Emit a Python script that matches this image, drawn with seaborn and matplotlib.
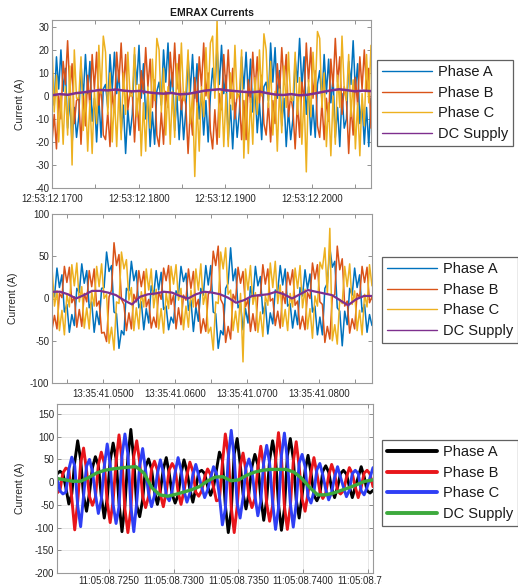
import numpy as np
import matplotlib
matplotlib.use('Agg')
import matplotlib.pyplot as plt
from matplotlib.lines import Line2D
from matplotlib.transforms import Bbox
import seaborn as sns

# ---------------- data ----------------
series_labels = ['Phase A', 'Phase B', 'Phase C', 'DC Supply']

# Panel 1 (12:53:12.xxxx)
p1_time_range = (0.1700, 0.2068)
p1_phase_a = [8, -4, 17, 3, 20, 2, 12, -14, -1, -21, -5, -18,
              -9, 14, -1, 18, 1, 15, -11, -1, -20, -1, -18, 3,
              5, -5, 18, 3, 19, 1, 11, -16, -4, -25, -6, -17,
              -8, 18, 5, 22, -1, 14, -10, 1, -22, -7, -21, 2,
              6, -4, 20, 6, 23, 2, 10, -15, 0, -19, -2, -19,
              -6, 17, 2, 18, -1, 14, -10, 1, -17, -2, -20, 0,
              12, 2, 21, 5, 22, 1, 9, -19, -4, -23, -3, -18,
              -7, 17, 3, 19, 0, 16, -7, 5, -16, -3, -19, 4,
              6, -2, 23, 6, 21, -1, 11, -13, -1, -22, -6, -19,
              -10, 16, 6, 25, 4, 17, -8, 4, -17, -4, -18, 5,
              11, -2, 18, 1, 16, -3, 8, -18, -5, -22, 1, -14,
              -10, 15, 5, 24, 2, 14, -12, -2, -21, -5, -22, -1]
p1_phase_b = [-20, -8, -23, 0, -10, 15, 5, 24, 2, 14, -12, -2,
              -1, -21, 0, -13, 9, -5, 18, 3, 19, -4, 6, -17,
              -19, -7, -22, 2, -7, 19, 6, 23, 3, 18, -6, 2,
              1, -20, -1, -15, 11, 1, 21, 4, 16, -5, 7, -17,
              -22, -7, -21, 2, -5, 19, 4, 23, 3, 18, -6, 2,
              -4, -25, -6, -17, 8, -4, 17, 4, 23, 0, 10, -15,
              -23, -6, -21, 1, -6, 18, 2, 20, -1, 12, -10, 1,
              0, -19, -2, -19, 7, -3, 19, 2, 17, -3, 9, -12,
              -17, -3, -20, -2, -12, 14, 1, 21, 5, 18, -9, 0,
              -6, -23, -3, -18, 6, -2, 23, 6, 21, -1, 11, -13,
              -18, -3, -19, -1, -11, 16, 4, 25, 6, 17, -8, 4,
              -2, -25, -4, -17, 8, -4, 17, 3, 20, 2, 12, -14]
p1_phase_c = [22, -7, 9, -20, 1, -21, 4, -17, 13, -30, 20, -1,
              -1, 17, -15, 1, -24, -2, -25, 2, -12, 22, 1, 26,
              19, -8, 10, -20, 0, -22, 3, -19, 10, -8, 19, 0,
              0, 21, -9, 5, -26, -3, -24, 4, -14, 16, -2, 25,
              20, -7, 12, -17, 4, -21, 2, -18, 14, -2, 23, -2,
              2, 20, -12, 1, -35, -3, -24, 4, -9, 21, -1, 23,
              26, -1, 33, -18, 3, -22, 1, -22, 10, -6, 22, -1,
              1, 20, -27, 2, -25, -1, -21, 8, -8, 20, 0, 27,
              20, -5, 15, -17, 2, -24, 3, -16, 13, -5, 19, -2,
              -2, 19, -8, 8, -21, 0, -33, 7, -9, 19, 1, 28,
              25, -5, 10, -22, -3, -26, 0, -21, 9, -5, 26, 3,
              -2, 18, -9, 7, -23, -3, -26, 1, -13, 18, -3, 22]
p1_dc = [0.3, 0.8, 0.5, 1.2, 1.6, 2.1, 2.6, 2.4, 2.8, 2.3, 2.0, 2.2, 1.6, 1.2,
         1.0, 1.3, 0.7, 0.9, 1.5, 2.2, 2.6, 2.9, 2.4, 2.1, 1.8, 1.6, 1.9, 1.2,
         0.6, 0.4, 0.8, 0.3, 0.5, 1.1, 1.8, 2.4, 2.9, 2.5, 2.0, 2.3, 2.1]
p1_xticks = [0.170, 0.175, 0.180, 0.185, 0.190, 0.195, 0.200, 0.205]
p1_xtick_labels = ['12:53:12.1700', '', '12:53:12.1800', '', '12:53:12.1900', '',
                   '12:53:12.2000', '']
p1_yticks = [-40, -30, -20, -10, 0, 10, 20, 30]

# Panel 2 (13:35:41.xxxx)
p2_time_range = (0.0429, 0.0874)
p2_phase_a = [12, 2, 36, 13, 28, -16, -7, -40, -19, -32,
              12, 7, 41, 18, 33, -11, -4, -40, -15, -31,
              12, 13, 55, 32, 39, -16, -18, -59, -38, -43,
              12, 9, 44, 21, 33, -11, -4, -37, -12, -29,
              15, 4, 33, 10, 31, -13, -9, -37, -22, -29,
              9, 5, 38, 20, 30, -14, -2, -39, -10, -27,
              12, 4, 39, 16, 39, -16, -18, -59, -38, -43,
              12, 18, 60, 21, 35, -11, -6, -37, -12, -29,
              14, 0, 38, 15, 26, -18, -5, -42, -17, -30,
              10, 9, 39, 16, 35, -9, -6, -35, -14, -31,
              13, 3, 34, 11, 29, -16, -9, -43, -22, -43,
              12, 18, 60, 37, 44, -11, -15, -56, -15, -31,
              12, 4, 36, 13, 28, -16, -7, -40, -19, -32]
p2_phase_b = [-37, -20, -36, 6, 1, 38, 19, 37, -5, 2,
              -34, -13, -33, 6, -4, 33, 14, 35, -9, -3,
              -41, -40, -51, 2, 10, 66, 39, 52, -1, -7,
              -38, -17, -36, 5, -4, 33, 14, 32, -10, -1,
              -35, -22, -34, 8, -1, 36, 21, 39, -7, 4,
              -36, -11, -31, 4, -2, 35, 12, 32, -10, -1,
              -41, -24, -39, 5, 10, 56, 39, 62, -1, -7,
              -52, -33, -48, 5, -2, 37, 18, 32, -10, -1,
              -39, -18, -38, 4, 3, 40, 17, 35, -3, 0,
              -32, -15, -35, 8, -6, 31, 16, 34, -8, -3,
              -36, -21, -37, 7, 0, 42, 23, 40, -4, -7,
              -52, -33, -48, 2, 5, 62, 34, 47, -9, -3,
              -41, -24, -36, 6, 1, 38, 19, 37, -5, 2]
p2_phase_c = [37, -9, 9, -38, -14, -43, 5, -10, 40, 15,
              42, -4, 14, -35, -11, -36, 8, -9, 38, 14,
              41, 0, 5, -53, -34, -61, -4, -6, 55, 35,
              46, -2, 13, -38, -11, -36, 8, -10, 35, 10,
              35, -11, 11, -36, -12, -41, 7, -12, 38, 17,
              40, -2, 12, -37, -9, -34, 10, -10, 35, 10,
              41, -7, 8, -41, -34, -61, -4, -6, 55, 35,
              60, 5, 10, -38, -15, -40, 6, -75, 35, 10,
              39, -7, 7, -40, -16, -45, 3, -8, 42, 13,
              44, -6, 16, -33, -13, -38, 6, -10, 36, 12,
              39, -11, 11, -36, -12, -47, 3, -9, 43, 35,
              60, 5, 83, -50, -31, -54, -1, -6, 38, 14,
              41, -7, 9, -38, -14, -43, 5, -10, 40, 15]
p2_dc = [8, 8, 5, 0, 4, 9, 9, 7, 4, -2, -7, 2, 5, 6, 8, 7, 3, 0, 5, 8, 7,
         5, 1, -5, -2, 3, 4, 5, 8, 5, 0, 5, 10, 8, 6, 4, -2, -8, -1, 3, 3]
p2_xticks = [0.045, 0.050, 0.055, 0.060, 0.065, 0.070, 0.075, 0.080, 0.085]
p2_xtick_labels = ['', '13:35:41.0500', '', '13:35:41.0600', '', '13:35:41.0700', '',
                   '13:35:41.0800', '']
p2_yticks = [-100, -50, 0, 50, 100]

# Panel 3 (11:05:08.xxxx)
p3_time_range = (0.72098, 0.74539)
p3_phase_a = [18, 24, 19, -12, -48, -26,
              44, 91, 50, -30, -64, -24,
              32, 56, 37, -31, -79, -36,
              47, 86, 52, -46, -109, -51,
              54, 116, 49, -52, -76, -39,
              34, 51, 29, -21, -49, -19,
              29, 54, 19, -27, -46, -29,
              19, 49, 24, -16, -44, -14,
              22, 26, 19, -9, -29, -11,
              27, 66, 49, -51, -111, -63,
              62, 96, 42, -26, -59, -24,
              34, 61, 39, -34, -84, -39,
              49, 91, 54, -49, -106, -60,
              58, 96, 52, -39, -79, -29,
              26, 59, 21, -29, -41, -27,
              24, 36, 22, -14, -34, -11,
              19, 26, 18, -10, -34, -11,
              11, 34, 12, -19, -24, -18]
p3_phase_b = [-24, -18, 20, 31, 27, -35,
              -105, -43, 41, 75, 26, -32,
              -51, -34, 38, 66, 42, -44,
              -89, -41, 44, 104, 49, -59,
              -111, -60, 57, 91, 44, -31,
              -56, -32, 29, 46, 27, -27,
              -54, -21, 27, 41, 29, -21,
              -49, -19, 16, 44, 24, -22,
              -31, -19, 11, 29, 17, -11,
              -41, -39, 41, 106, 62, -55,
              -111, -54, 34, 64, 24, -32,
              -56, -37, 31, 79, 36, -47,
              -86, -52, 46, 109, 51, -52,
              -104, -54, 44, 89, 34, -37,
              -64, -24, 21, 54, 19, -19,
              -36, -24, 14, 39, 19, -19,
              -26, -19, 10, 32, 19, -11,
              -34, -11, 20, 26, 18, -10]
p3_phase_c = [10, -19, -26, -22, 28, 55,
              36, -52, -98, -30, 35, 50,
              24, -26, -69, -39, 34, 84,
              39, -49, -91, -54, 57, 106,
              62, -52, -109, -44, 36, 74,
              26, -24, -54, -29, 19, 49,
              21, -29, -41, -19, 21, 54,
              27, -19, -44, -24, 16, 39,
              14, -11, -34, -17, 9, 34,
              19, -31, -94, -59, 54, 114,
              54, -46, -79, -34, 32, 51,
              26, -29, -74, -42, 44, 81,
              41, -44, -104, -57, 59, 108,
              50, -46, -99, -47, 42, 61,
              34, -32, -46, -21, 27, 41,
              16, -16, -39, -22, 11, 34,
              11, -11, -32, -18, 19, 26,
              19, -19, -28, -11, 10, 32]
p3_dc = [8, 5, 2, 2, 10, 20, 26, 29, 31, 33, 34, 20, -12, -28, -31, -27, -22,
         -17, -10, 2, 11, 12, 3, 5, 15, 22, 26, 28, 28, 28, 22, 8, -12, -28,
         -28, -24, -18, -12, -5, 2, 5]
p3_xticks = [0.725, 0.730, 0.735, 0.740, 0.745]
p3_xtick_labels = ['11:05:08.7250', '11:05:08.7300', '11:05:08.7350',
                   '11:05:08.7400', '11:05:08.7450']
p3_yticks = [-200, -150, -100, -50, 0, 50, 100, 150]

matlab_colors = ['#0072BD', '#D95319', '#EDB120', '#7E2F8E']
bright_colors = ['#000000', '#E8161B', '#2F3FF5', '#3DAA3D']

# ---------------- style ----------------
sns.set_style('ticks')
plt.rcParams['font.family'] = ['Liberation Sans', 'DejaVu Sans']
plt.rcParams['axes.unicode_minus'] = False

W, H = 518, 588
fig = plt.figure(figsize=(W / 100, H / 100), dpi=100)


def px_axes(l, t, r, b):
    return fig.add_axes([l / W, 1 - b / H, (r - l) / W, (b - t) / H])


def style_axes(ax, xticks, xlabels, yticks, xlim, ylim, ylab_x, xpad):
    ax.set_xlim(*xlim)
    ax.set_ylim(*ylim)
    ax.set_xticks(xticks)
    ax.set_xticklabels(xlabels)
    ax.set_yticks(yticks)
    ax.set_yticklabels([str(v) for v in yticks])
    ax.tick_params(direction='in', length=3, width=0.6, top=True, right=True,
                   labelsize=7, color='#808080', labelcolor='#262626')
    ax.tick_params(axis='x', pad=xpad)
    ax.tick_params(axis='y', pad=2)
    for s in ax.spines.values():
        s.set_color('#9a9a9a')
        s.set_linewidth(0.8)
    ax.set_xlabel('')
    ax.set_ylabel('Current (A)', fontsize=7.5, color='#262626')
    ax.yaxis.set_label_coords(ylab_x, 0.5)


def draw_panel(ax, trange, series, colors, lws):
    for vals, col, lw, lab in zip(series, colors, lws, series_labels):
        t = np.linspace(trange[0], trange[1], len(vals))
        sns.lineplot(x=t, y=np.asarray(vals, dtype=float), ax=ax, color=col,
                     linewidth=lw, estimator=None, sort=False, label=lab,
                     legend=False)


def add_legend(ax, colors, lw, x0, y0):
    handles = [Line2D([0], [0], color=c, lw=lw) for c in colors]
    leg = ax.legend(handles, series_labels, loc='upper left',
                    bbox_to_anchor=(x0 / W, 1 - y0 / H),
                    bbox_transform=fig.transFigure, frameon=True,
                    fancybox=False, edgecolor='#3a3a3a', fontsize=10.5,
                    handlelength=3.4, handletextpad=0.4, labelspacing=0.45,
                    borderpad=0.35, borderaxespad=0)
    leg.get_frame().set_linewidth(0.9)
    for txt in leg.get_texts():
        txt.set_color('#1a1a1a')
    return leg


# Panel 1
ax1 = px_axes(52, 20, 371, 188)
draw_panel(ax1, p1_time_range, [p1_phase_a, p1_phase_b, p1_phase_c, p1_dc],
           matlab_colors, [1.1, 1.1, 1.1, 1.8])
style_axes(ax1, p1_xticks, p1_xtick_labels, p1_yticks, p1_time_range,
           (-40, 33), -0.085, 4)
ax1.set_title('EMRAX Currents', fontsize=7.5, fontweight='bold', pad=3,
              color='#1a1a1a')
add_legend(ax1, matlab_colors, 1.0, 377, 60)

# Panel 2
ax2 = px_axes(52, 214, 372, 383)
draw_panel(ax2, p2_time_range, [p2_phase_a, p2_phase_b, p2_phase_c, p2_dc],
           matlab_colors, [1.1, 1.1, 1.1, 1.6])
style_axes(ax2, p2_xticks, p2_xtick_labels, p2_yticks, p2_time_range,
           (-100, 100), -0.106, 4)
add_legend(ax2, matlab_colors, 1.0, 382, 257)

# Panel 3
ax3 = px_axes(57, 404, 373, 573)
ax3.grid(True, color='#e3e3e3', linewidth=0.6)
ax3.set_axisbelow(True)
draw_panel(ax3, p3_time_range, [p3_phase_a, p3_phase_b, p3_phase_c, p3_dc],
           bright_colors, [2.1, 2.1, 2.1, 2.4])
style_axes(ax3, p3_xticks, p3_xtick_labels, p3_yticks, p3_time_range,
           (-200, 172), -0.101, 2)
add_legend(ax3, bright_colors, 2.8, 382, 440)

fig.canvas.draw()
last = ax3.get_xticklabels()[-1]
last.set_clip_box(Bbox.from_extents(0, 0, 382, H))
last.set_clip_on(True)

fig.savefig('out.png', dpi=100)
